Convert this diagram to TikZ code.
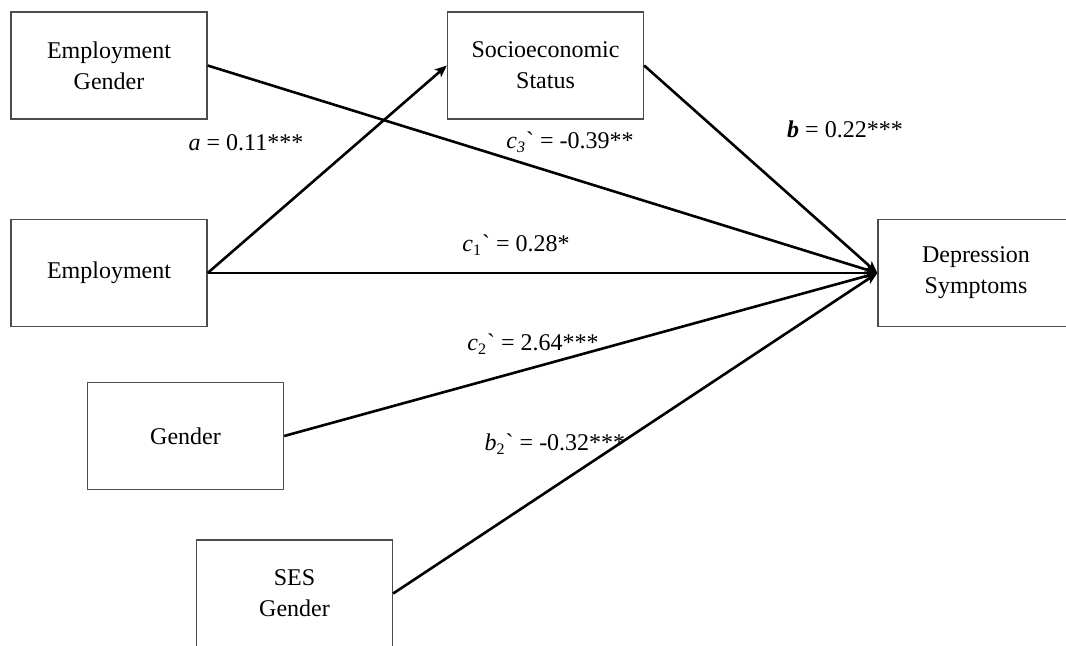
\documentclass[tikz,border=0pt]{standalone}
\usepackage{fontspec}
\setmainfont{Liberation Serif}[Ligatures=TeXOff]
\usetikzlibrary{arrows.meta}
\begin{document}
\begin{tikzpicture}[x=0.5pt,y=-0.5pt,
  box/.style={draw=black!70, line width=0.65pt, minimum width=98pt, minimum height=53.5pt,
    inner sep=0pt, align=center, font=\fontsize{12}{15.5}\selectfont},
  path/.style={line width=1.3pt, black},
  arr/.style={path, -{Stealth[length=6pt,width=5pt,inset=1.5pt]}},
  lab/.style={font=\fontsize{12}{14}\selectfont, inner sep=0pt}]
\useasboundingbox (0,0) rectangle (1066,645);
\clip (0,0) rectangle (1066,645);
\node[box] (eg)  at (109,65.5)  {Employment\\Gender};
\node[box] (ses) at (545.5,65.5) {Socioeconomic\\Status};
\node[box] (emp) at (109,273) {Employment};
\node[box] (dep) at (976,273) {Depression\\Symptoms};
\node[box] (gen) at (185.5,436) {Gender};
\node[box] (sg)  at (294.5,593.5) {SES\\Gender};
\draw[arr] (emp.east) -- (ses.west);
\draw[arr] (eg.east) -- (dep.west);
\draw[arr] (ses.east) -- (dep.west);
\draw[arr] (emp.east) -- (dep.west);
\draw[arr] (gen.east) -- (dep.west);
\draw[arr] (sg.east) -- (dep.west);
\node[lab] (la)  at (246,143) {\textit{a} = 0.11***};
\node[lab] (lc3) at (570,142) {\textit{c}\textsubscript{\textit{3}}` = -0.39**};
\node[lab] (lb)  at (845,129) {\textbf{\textit{b}} = 0.22***};
\node[lab] (lc1) at (516,245) {\textit{c}\textsubscript{1}` = 0.28*};
\node[lab] (lc2) at (533,344) {\textit{c}\textsubscript{2}` = 2.64***};
\node[lab] (lb2) at (555,444) {\textit{b}\textsubscript{2}` = -0.32***};
\end{tikzpicture}
\end{document}
